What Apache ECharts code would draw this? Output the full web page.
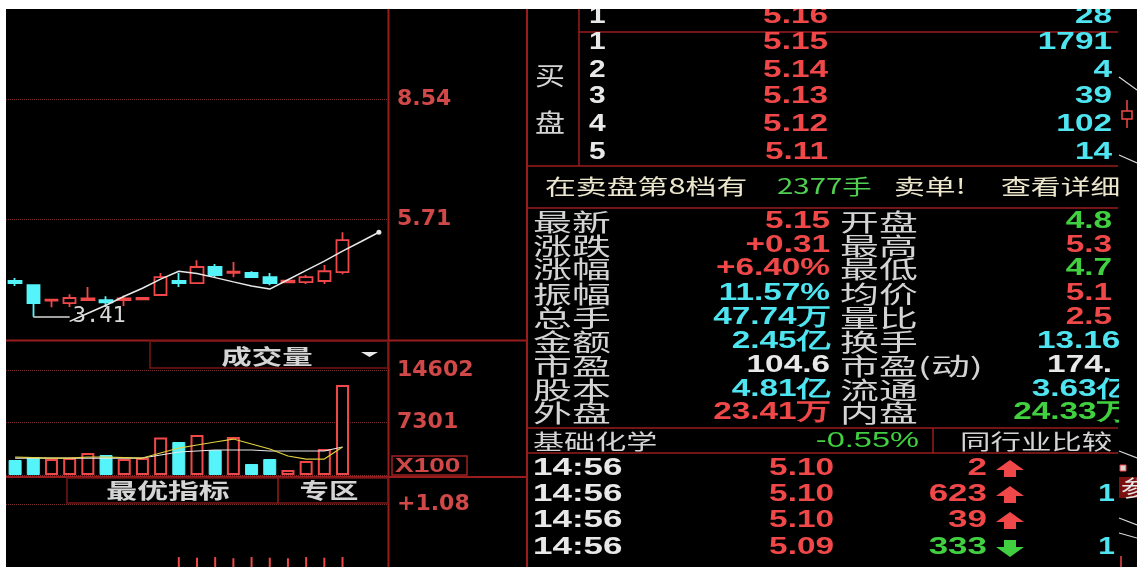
<!DOCTYPE html>
<html><head><meta charset="utf-8">
<script src="https://cdn.jsdelivr.net/npm/echarts@6/dist/echarts.min.js"></script>
<style>html,body{margin:0;padding:0;background:#fff;}#c{width:1137px;height:567px;}</style>
</head><body><div id="c"></div>
<script>
// ---------------- DATA ----------------
const categories = ['1','2','3','4','5','6','7','8','9','10','11','12','13','14','15','16','17','18','19','20','21'];
// [open, close, low, high]
const candles = [
  [4.25, 4.20, 4.13, 4.32],
  [4.15, 3.73, 3.41, 4.17],
  [3.79, 3.81, 3.63, 3.82],
  [3.73, 3.85, 3.635, 3.94],
  [3.80, 3.84, 3.79, 4.11],
  [3.80, 3.75, 3.635, 3.89],
  [3.80, 3.84, 3.66, 3.91],
  [3.82, 3.85, 3.80, 3.87],
  [3.92, 4.34, 3.92, 4.44],
  [4.25, 4.20, 4.11, 4.44],
  [4.20, 4.58, 4.20, 4.74],
  [4.58, 4.39, 4.34, 4.65],
  [4.44, 4.47, 4.34, 4.70],
  [4.44, 4.34, 4.32, 4.48],
  [4.34, 4.20, 4.15, 4.44],
  [4.22, 4.26, 4.20, 4.28],
  [4.225, 4.34, 4.18, 4.39],
  [4.25, 4.48, 4.18, 4.625],
  [4.46, 5.215, 4.41, 5.40]
];
const priceMA = [null, null, null, 3.30, 3.49, 3.68, 3.89, 4.08, 4.295, 4.48, 4.425, 4.33, 4.23, 4.135, 4.06, 4.28, 4.50, 4.72, 4.955, 5.175, 5.40];
const priceLevels = [8.54, 5.71];
const lowMark = 3.41;
const volumes = [2085, 2500, 2225, 2360, 3060, 2780, 2225, 2360, 5210, 4590, 5560, 3475, 5280, 1530, 2225, 700, 1950, 3600, 12510];
const volMAyellow = [2500, 2430, 2360, 2360, 2500, 2500, 2430, 2360, 3060, 3750, 4170, 4590, 5000, 4310, 3610, 2640, 2220, 2220, 3890];
const volMAwhite = [2360, 2360, 2360, 2360, 2360, 2360, 2360, 2360, 2780, 3200, 3340, 3475, 3475, 3475, 3340, 3340, 3340, 3340, 3890];
const volTicks = [7301, 14602];
const indTop = 1.08;
const indBars = [null, null, null, null, null, null, null, null, null, 0.17, 0.16, 0.17, 0.15, 0.17, 0.16, 0.15, 0.17, 0.16, 0.17];

const askLevels = ['1'];
const askPrices = ['5.16'];
const askVols = ['28'];
const bidLevels = ['1', '2', '3', '4', '5'];
const bidPrices = ['5.15', '5.14', '5.13', '5.12', '5.11'];
const bidVols = ['1791', '4', '39', '102', '14'];

const noticeTexts = ['在卖盘第8档有', '2377手', '卖单!', '查看详细'];
const statLabels = ['最新', '涨跌', '涨幅', '振幅', '总手', '金额', '市盈', '股本', '外盘'];
const statValues = ['5.15', '+0.31', '+6.40%', '11.57%', '47.74万', '2.45亿', '104.6', '4.81亿', '23.41万'];
const statLabels2 = ['开盘', '最高', '最低', '均价', '量比', '换手', '市盈(动)', '流通', '内盘'];
const statValues2 = ['4.8', '5.3', '4.7', '5.1', '2.5', '13.16%', '174.', '3.63亿', '24.33万'];
const industry = ['基础化学', '-0.55%', '同行业比较'];
const tradeTimes = ['14:56', '14:56', '14:56', '14:56'];
const tradePrices = ['5.10', '5.10', '5.10', '5.09'];
const tradeVols = ['2', '623', '39', '333'];
const tradeDirs = ['B', 'B', 'B', 'S'];

// ---------------- STYLE ----------------
const RED = '#f04848', CYAN = '#4ee4f0', BARCYAN = '#54f4fa', GREEN = '#40d040', WHITE = '#e8e8e8', GREY = '#d4d4d4', CREAM = '#ece6cc';
const LINE = '#9a1c1c', AXRED = '#d04848', DOT = '#7a3030';
const NUMF = 'bold 23px "Liberation Sans"';
const CNF = '24px "Noto Sans CJK SC"';
const CN21 = '21px "Noto Sans CJK SC"';

function txt(x, y, text, fill, font, align, sx) {
  return { type: 'text', x: x, y: y, scaleX: sx || 1, z: 20, silent: true,
    style: { text: text, fill: fill, font: font, align: align || 'left', textAlign: align || 'left',
      verticalAlign: 'middle', textVerticalAlign: 'middle' } };
}
function ln(x1, y1, x2, y2, color, w) {
  return { type: 'line', z: 15, silent: true, shape: { x1: x1, y1: y1, x2: x2, y2: y2 }, style: { stroke: color || LINE, lineWidth: w || 1.5 } };
}
function box(x, y, w, h, color) {
  return { type: 'rect', z: 15, silent: true, shape: { x: x, y: y, width: w, height: h }, style: { fill: null, stroke: color || LINE, lineWidth: 1.5 } };
}

const g = [];
// left frame
g.push(ln(388.5, 9, 388.5, 567, LINE, 2));
g.push(ln(527, 9, 527, 567, LINE, 2));
g.push(ln(6, 340.5, 527, 340.5, LINE, 2));
g.push(ln(6, 477, 527, 477, LINE, 2));
g.push(box(150, 341, 238, 27, '#7a1616'));
g.push(txt(267, 356, '成交量', GREY, 'bold 21px "Noto Sans CJK SC"', 'center', 1.45));
g.push({ type: 'polygon', z: 20, silent: true, shape: { points: [[361, 352], [378, 352], [369.5, 357]] }, style: { fill: '#e8e8e8' } });
g.push(box(67, 478, 211, 25, '#7a1616'));
g.push(box(278, 478, 110, 25, '#7a1616'));
g.push(txt(168, 490, '最优指标', GREY, 'bold 21px "Noto Sans CJK SC"', 'center', 1.47));
g.push(txt(329, 490, '专区', GREY, 'bold 21px "Noto Sans CJK SC"', 'center', 1.4));
g.push(box(392, 456, 75, 19, '#a02020'));
g.push(txt(395, 466, 'X100', AXRED, 'bold 20px "Liberation Sans"', 'left', 1.4));

// right panel frame
g.push(ln(579, 9, 579, 166));
g.push(ln(579, 32, 1118, 32));
g.push(ln(527, 166, 1118, 166));
g.push(ln(527, 208, 1118, 208));
g.push(ln(527, 428, 1118, 428));
g.push(ln(527, 453, 1118, 453));
g.push(ln(933, 428, 933, 453));

// order book
const askY = [17];
const bidY = [43, 71, 97, 125, 153];
function bookRow(y, lvl, price, vol) {
  g.push(txt(589, y, lvl, WHITE, NUMF, 'left', 1.3));
  g.push(txt(828, y, price, RED, NUMF, 'right', 1.45));
  g.push(txt(1112, y, vol, CYAN, NUMF, 'right', 1.45));
}
askLevels.forEach((l, i) => bookRow(askY[i], l, askPrices[i], askVols[i]));
bidLevels.forEach((l, i) => bookRow(bidY[i], l, bidPrices[i], bidVols[i]));
g.push(txt(550, 75, '买', GREY, '25px "Noto Sans CJK SC"', 'center', 1.2));
g.push(txt(550, 122, '盘', GREY, '25px "Noto Sans CJK SC"', 'center', 1.2));

// notice line
g.push(txt(545, 186, noticeTexts[0], CREAM, CN21, 'left', 1.47));
g.push(txt(777, 186, noticeTexts[1], '#50d050', CN21, 'left', 1.4));
g.push(txt(894, 186, noticeTexts[2], CREAM, CN21, 'left', 1.47));
g.push(txt(1001, 186, noticeTexts[3], CREAM, CN21, 'left', 1.42));

// stats
const statY = [222, 246, 269, 294, 318, 342, 366, 390, 413];
const statColors = [RED, RED, RED, CYAN, CYAN, CYAN, WHITE, CYAN, RED];
const statColors2 = [GREEN, RED, GREEN, RED, RED, CYAN, WHITE, CYAN, GREEN];
statLabels.forEach((l, i) => {
  g.push(txt(533, statY[i], l, GREY, CNF, 'left', 1.62));
  g.push(txt(830, statY[i], statValues[i], statColors[i], NUMF, 'right', 1.45));
  g.push(txt(840, statY[i], statLabels2[i], GREY, CNF, 'left', 1.62));
  const v = statValues2[i];
  const right = v.indexOf('%') >= 0 ? 1150 : (/[万亿]/.test(v) ? 1130 : 1112);
  g.push(txt(right, statY[i], v, statColors2[i], NUMF, 'right', 1.45));
});

// industry row
g.push(txt(533, 441, industry[0], GREY, CN21, 'left', 1.48));
g.push(txt(919, 441, industry[1], GREEN, '22px "Liberation Sans"', 'right', 1.48));
g.push(txt(960, 441, industry[2], GREY, CN21, 'left', 1.45));

// trades
const tradeY = [469, 495, 521, 548];
tradeTimes.forEach((t, i) => {
  const y = tradeY[i];
  const up = tradeDirs[i] === 'B';
  const c = up ? RED : GREEN;
  g.push(txt(533, y, t, WHITE, NUMF, 'left', 1.52));
  g.push(txt(834, y, tradePrices[i], RED, NUMF, 'right', 1.45));
  g.push(txt(987, y, tradeVols[i], c, NUMF, 'right', 1.52));
  const s = up ? 1 : -1;
  const pts = [[0, -9], [14, 1], [6, 1], [6, 8], [-6, 8], [-6, 1], [-14, 1]].map(p => [1010 + p[0], y + s * p[1]]);
  g.push({ type: 'polygon', z: 20, silent: true, shape: { points: pts }, style: { fill: c } });
  if (i === 1 || i === 3) g.push(txt(1115, y, '1', CYAN, NUMF, 'right', 1.3));
});

// neighbouring panel strip at the right edge (partly visible)
g.push({ type: 'rect', z: 40, silent: true, shape: { x: 1119, y: 9, width: 18, height: 558 }, style: { fill: '#000' } });
g.push(Object.assign(ln(1119, 77, 1137, 90, '#d8d8d8', 1.2), { z: 41 }));
g.push(Object.assign(ln(1127, 100, 1127, 128, RED, 1.5), { z: 41 }));
g.push({ type: 'rect', z: 42, silent: true, shape: { x: 1122, y: 111, width: 10, height: 8 }, style: { fill: '#000', stroke: RED, lineWidth: 1.5 } });
g.push(Object.assign(ln(1119, 155, 1137, 163, '#d8d8d8', 1.2), { z: 41 }));
g.push(Object.assign(ln(1119, 451, 1137, 458, '#d8d8d8', 1.2), { z: 41 }));
g.push({ type: 'rect', z: 42, silent: true, shape: { x: 1120, y: 465, width: 6, height: 6 }, style: { fill: '#d8d8d8', stroke: RED, lineWidth: 1 } });
g.push({ type: 'rect', z: 41, silent: true, shape: { x: 1119, y: 477, width: 18, height: 21 }, style: { fill: '#7a1010' } });
g.push(Object.assign(txt(1121, 488, '参', '#e8e8e8', '22px "Noto Sans CJK SC"', 'left', 1.2), { z: 43 }));
g.push(Object.assign(ln(1119, 518, 1137, 525, '#d8d8d8', 1.2), { z: 41 }));
g.push(Object.assign(ln(1119, 533, 1137, 538, '#d8d8d8', 1.2), { z: 41 }));
g.push(Object.assign(ln(1121, 556, 1121, 567, RED, 1.5), { z: 41 }));

// white page edges
g.push({ type: 'rect', z: 50, silent: true, shape: { x: 0, y: 0, width: 1137, height: 9 }, style: { fill: '#fff' } });
g.push({ type: 'rect', z: 50, silent: true, shape: { x: 0, y: 0, width: 6, height: 567 }, style: { fill: '#fff' } });

// ---------------- CHART ----------------
const chart = echarts.init(document.getElementById('c'));
const volData = volumes.map((v, i) => {
  const up = candles[i][1] >= candles[i][0];
  return { value: v, itemStyle: up ? { color: '#000', borderColor: RED, borderWidth: 2 } : { color: BARCYAN, borderColor: BARCYAN, borderWidth: 1 } };
});
const maData = priceMA.map((v, i) => i === priceMA.length - 1 ? { value: v, symbol: 'circle', symbolSize: 5 } : v);
const axLabel = { color: AXRED, fontFamily: 'DejaVu Sans', fontWeight: 'bold', fontSize: 22, margin: 9, align: 'left' };

chart.setOption({
  backgroundColor: '#000',
  animation: false,
  grid: [
    { left: 6, top: 9, width: 382, height: 331 },
    { left: 6, top: 370, width: 382, height: 105 },
    { left: 6, top: 504, width: 382, height: 63 }
  ],
  xAxis: [0, 1, 2].map(i => ({ type: 'category', gridIndex: i, data: categories, boundaryGap: true, show: false })),
  yAxis: [
    { gridIndex: 0, min: 2.86, max: 10.66, show: false },
    { gridIndex: 1, min: 0, max: volTicks[1], interval: volTicks[0], position: 'right',
      axisLine: { show: false }, axisTick: { show: false },
      axisLabel: Object.assign({}, axLabel, { formatter: v => v === 0 ? '' : String(v) }),
      splitLine: { show: true, lineStyle: { type: 'dotted', color: DOT, width: 1 } } },
    { gridIndex: 2, min: 0, max: indTop, interval: indTop, position: 'right',
      axisLine: { show: false }, axisTick: { show: false },
      axisLabel: Object.assign({}, axLabel, { formatter: v => v > 0 ? '+' + v.toFixed(2) : '' }),
      splitLine: { show: true, lineStyle: { type: 'dotted', color: DOT, width: 1 } } }
  ],
  series: [
    { type: 'candlestick', xAxisIndex: 0, yAxisIndex: 0, data: candles, barWidth: 13,
      itemStyle: { color: '#000', color0: BARCYAN, borderColor: RED, borderColor0: BARCYAN, borderWidth: 1.8 },
      markLine: { silent: true, symbol: 'none', animation: false,
        data: priceLevels.map(p => ({ yAxis: p,
          lineStyle: { type: 'dotted', color: DOT, width: 1 },
          label: { show: true, position: 'end', distance: 9, formatter: p.toFixed(2), color: AXRED, fontFamily: 'DejaVu Sans', fontWeight: 'bold', fontSize: 22 } }))
          .concat([[
            { coord: ['2', lowMark], lineStyle: { type: 'solid', color: '#d8d8d8', width: 1.5 },
              label: { show: true, position: 'end', distance: 3, formatter: lowMark.toFixed(2), color: '#d8d8d8', fontFamily: 'DejaVu Sans Mono', fontSize: 22 } },
            { coord: ['4', lowMark] }
          ]])
      } },
    { type: 'line', xAxisIndex: 0, yAxisIndex: 0, data: maData, symbol: 'none', z: 5,
      lineStyle: { color: '#e8e8e8', width: 1.5 }, itemStyle: { color: '#e8e8e8' } },
    { type: 'bar', xAxisIndex: 1, yAxisIndex: 1, data: volData, barWidth: 13 },
    { type: 'line', xAxisIndex: 1, yAxisIndex: 1, data: volMAwhite, symbol: 'none', z: 5, lineStyle: { color: '#e8e8e8', width: 1.2 } },
    { type: 'line', xAxisIndex: 1, yAxisIndex: 1, data: volMAyellow, symbol: 'none', z: 6, lineStyle: { color: '#e0d040', width: 1.2 } },
    { type: 'bar', xAxisIndex: 2, yAxisIndex: 2, data: indBars, barWidth: 2, itemStyle: { color: RED } }
  ],
  graphic: { elements: g }
});
</script>
</body></html>
